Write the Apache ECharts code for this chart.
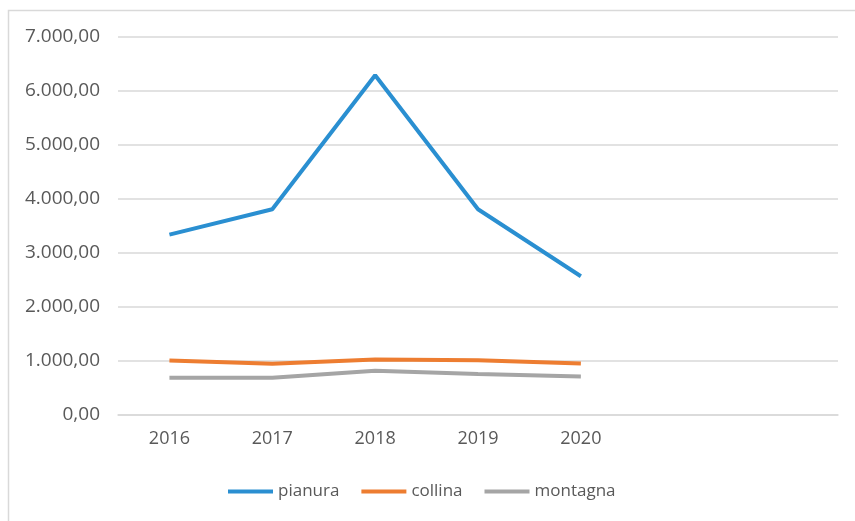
<!DOCTYPE html>
<html>
<head>
<meta charset="utf-8">
<script src="https://cdn.jsdelivr.net/npm/echarts@6/dist/echarts.min.js"></script>
<style>
  html, body { margin: 0; padding: 0; background: #fff; }
  #container { width: 855px; height: 521px; }
</style>
</head>
<body>
<div id="container"></div>
<script type="text/javascript">
// anni (the last two slots are empty, as in the original chart)
var years = ['2016', '2017', '2018', '2019', '2020', '', ''];
var pianura = [3340, 3810, 6290, 3810, 2570];
var collina = [1010, 950, 1030, 1015, 955];
var montagna = [690, 690, 820, 760, 715];

// formato italiano: 7.000,00
function fmtIt(v) {
    var parts = v.toFixed(2).split('.');
    var intPart = parts[0].replace(/\B(?=(\d{3})+(?!\d))/g, '.');
    return intPart + ',' + parts[1];
}

var mychart = echarts.init(document.getElementById('container'));
var txt = '#595959';
var font = 'Open Sans';

var option = {
    backgroundColor: '#fff',
    animation: false,
    graphic: [{
        type: 'rect',
        shape: { x: 8.5, y: 10.5, width: 900, height: 600 },
        style: { fill: 'none', stroke: '#d9d9d9', lineWidth: 1.5 }
    }],
    grid: { left: 118, right: 17, top: 37, bottom: 106 },
    legend: {
        bottom: 16,
        left: 223,
        icon: 'rect',
        itemWidth: 45,
        itemHeight: 4,
        itemGap: 22,
        textStyle: { color: txt, fontSize: 17, fontFamily: font },
        data: ['pianura', 'collina', 'montagna']
    },
    xAxis: {
        type: 'category',
        boundaryGap: true,
        data: years,
        axisLine: { lineStyle: { color: '#d9d9d9', width: 1.5 } },
        axisTick: { show: false },
        axisLabel: { color: txt, fontSize: 18, fontFamily: font, margin: 15, interval: 0 }
    },
    yAxis: {
        type: 'value',
        min: 0,
        max: 7000,
        interval: 1000,
        axisLine: { show: false },
        axisTick: { show: false },
        splitLine: { lineStyle: { color: '#d9d9d9', width: 1.5 } },
        axisLabel: { color: txt, fontSize: 19, fontFamily: font, margin: 18, formatter: fmtIt }
    },
    series: [
        {
            name: 'pianura', type: 'line', data: pianura,
            symbol: 'none', itemStyle: { color: '#2A8FD1' },
            lineStyle: { width: 4, color: '#2A8FD1' }
        },
        {
            name: 'collina', type: 'line', data: collina,
            symbol: 'none', itemStyle: { color: '#ED7D31' },
            lineStyle: { width: 4, color: '#ED7D31' }
        },
        {
            name: 'montagna', type: 'line', data: montagna,
            symbol: 'none', itemStyle: { color: '#A5A5A5' },
            lineStyle: { width: 4, color: '#A5A5A5' }
        }
    ]
};

mychart.setOption(option);
</script>
</body>
</html>
